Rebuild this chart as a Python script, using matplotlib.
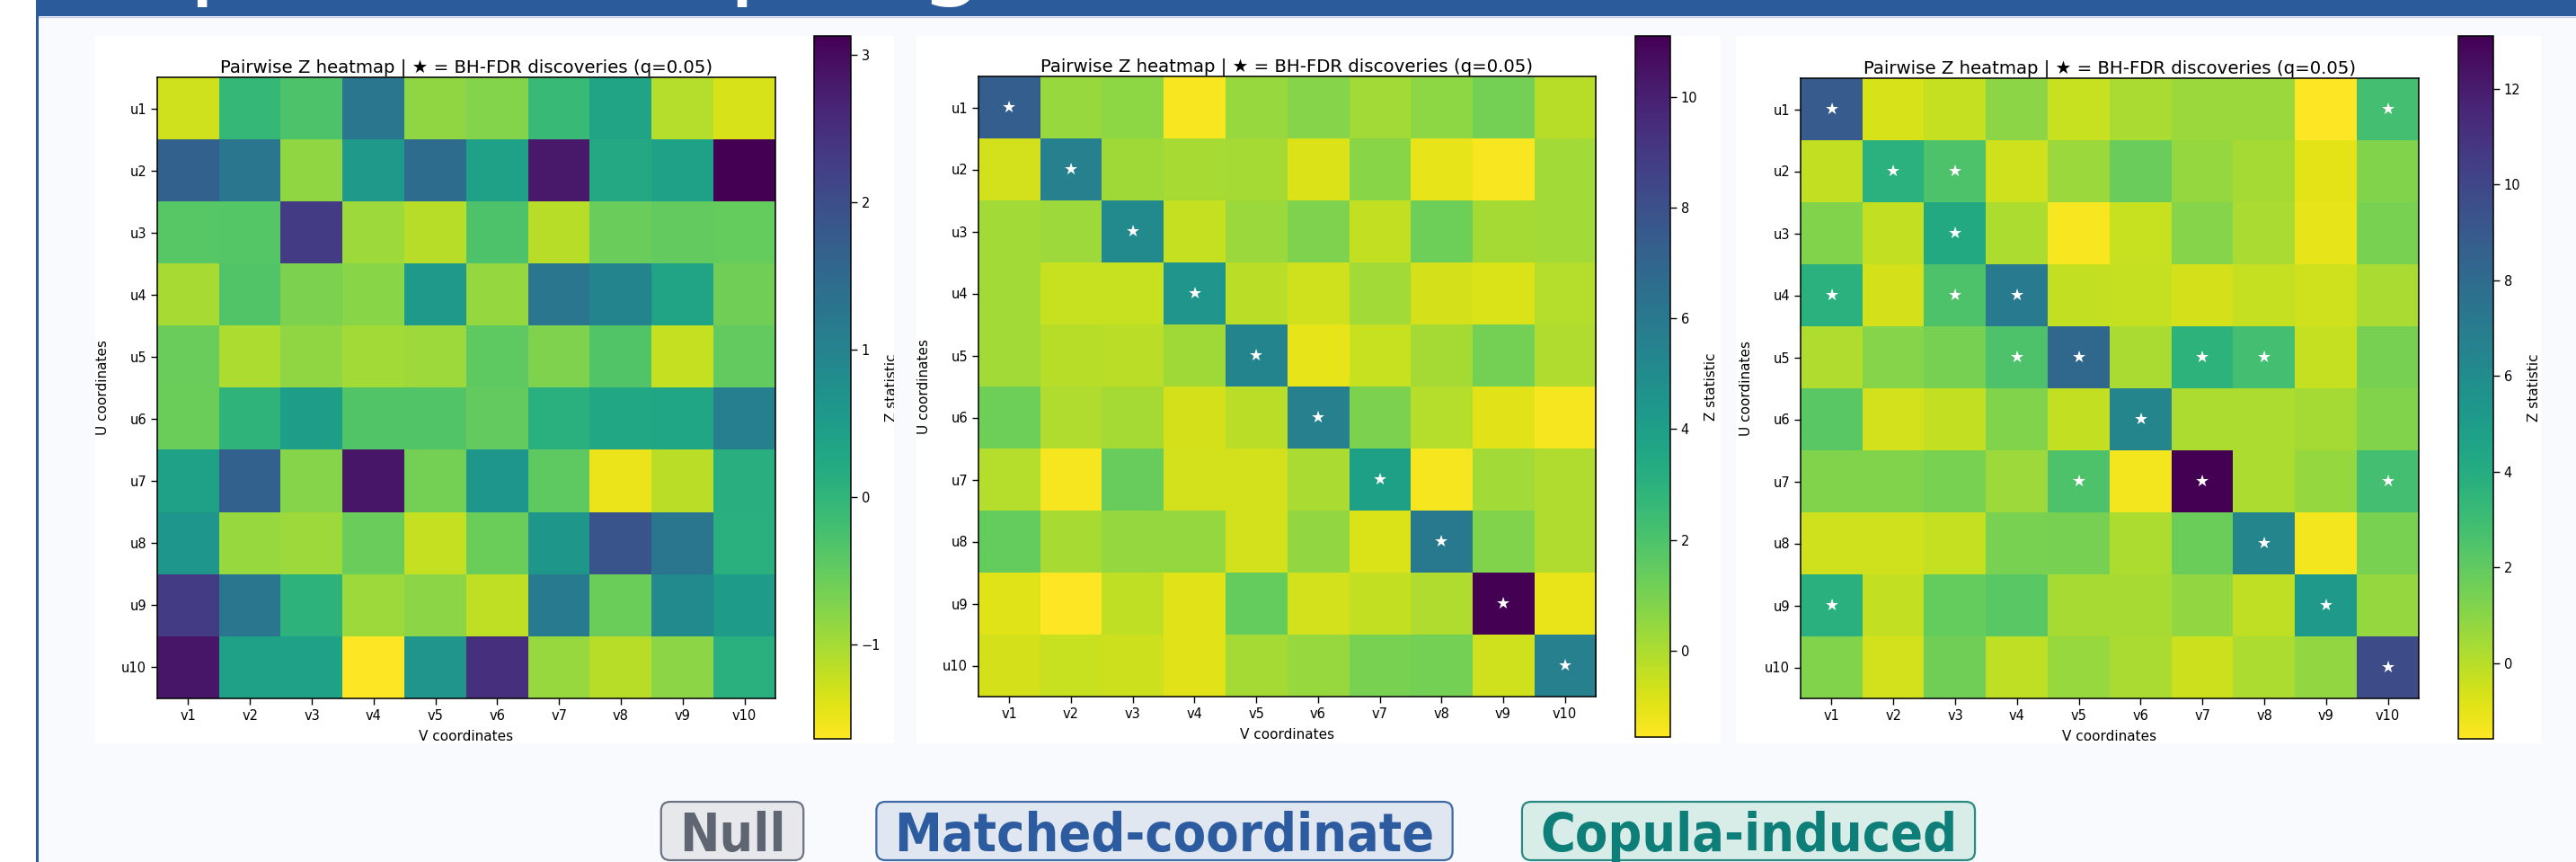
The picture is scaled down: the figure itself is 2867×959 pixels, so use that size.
import numpy as np
import matplotlib
matplotlib.use("Agg")
import matplotlib.pyplot as plt
from matplotlib.patches import Rectangle, FancyBboxPatch
from matplotlib.transforms import Bbox

W, H, DPI = 2867, 959, 100

# ---------------- data ----------------
row_labels = ["u1", "u2", "u3", "u4", "u5", "u6", "u7", "u8", "u9", "u10"]
col_labels = ["v1", "v2", "v3", "v4", "v5", "v6", "v7", "v8", "v9", "v10"]

z_null = [
    [-1.30, -0.05, -0.30, 1.25, -0.85, -0.75, -0.10, 0.35, -1.10, -1.35],
    [1.65, 1.25, -0.85, 0.55, 1.45, 0.40, 2.80, 0.25, 0.40, 3.13],
    [-0.40, -0.38, 2.30, -0.95, -1.12, -0.30, -1.12, -0.55, -0.50, -0.52],
    [-1.02, -0.35, -0.70, -0.80, 0.55, -0.88, 1.25, 0.98, 0.35, -0.60],
    [-0.55, -1.05, -0.85, -0.98, -0.95, -0.45, -0.72, -0.35, -1.22, -0.50],
    [-0.57, 0.03, 0.45, -0.35, -0.35, -0.50, 0.10, 0.27, 0.30, 1.08],
    [0.40, 1.65, -0.78, 2.85, -0.65, 0.62, -0.45, -1.50, -1.15, 0.12],
    [0.62, -0.90, -0.95, -0.55, -1.22, -0.57, 0.60, 1.90, 1.25, 0.10],
    [2.30, 1.25, 0.05, -0.95, -0.82, -1.18, 1.15, -0.57, 0.85, 0.50],
    [2.85, 0.40, 0.40, -1.64, 0.65, 2.48, -0.90, -1.12, -0.82, 0.10],
]

z_matched = [
    [7.30, 0.40, 0.60, -1.45, 0.40, 0.75, 0.20, 0.60, 1.10, -0.20],
    [-0.70, 5.60, 0.25, 0.10, 0.15, -0.90, 0.70, -1.10, -1.45, 0.20],
    [0.20, 0.30, 5.10, -0.45, 0.35, 0.90, -0.40, 1.25, 0.15, 0.20],
    [0.20, -0.50, -0.50, 4.50, -0.25, -0.65, 0.20, -0.75, -0.85, -0.15],
    [0.20, -0.20, -0.25, 0.25, 5.40, -1.10, -0.50, 0.15, 1.10, -0.05],
    [1.25, -0.05, 0.15, -0.75, -0.25, 5.60, 0.95, -0.15, -1.00, -1.40],
    [-0.15, -1.40, 1.40, -0.70, -0.70, 0.05, 3.90, -1.40, 0.20, -0.05],
    [1.45, 0.10, 0.45, 0.45, -0.70, 0.50, -0.85, 6.00, 0.85, -0.05],
    [-0.95, -1.56, -0.35, -1.00, 1.45, -0.70, -0.40, -0.05, 11.10, -1.15],
    [-0.75, -0.50, -0.60, -1.00, 0.15, 0.40, 1.00, 1.10, -0.65, 5.60],
]

z_copula = [
    [8.90, -0.70, -0.30, 1.00, -0.35, 0.30, 0.60, 0.60, -1.58, 2.80],
    [-0.25, 3.70, 2.50, -0.50, 0.60, 1.80, 0.75, 0.40, -1.00, 1.20],
    [1.20, -0.25, 4.20, 0.20, -1.45, -0.35, 1.10, 0.30, -1.05, 1.40],
    [3.70, -0.65, 2.50, 7.10, -0.25, -0.30, -0.65, -0.30, -0.50, 0.30],
    [0.15, 1.10, 1.45, 2.50, 8.20, 0.30, 3.60, 2.80, -0.30, 1.45],
    [2.20, -0.60, -0.25, 1.20, -0.25, 6.40, 0.20, 0.20, 0.40, 1.20],
    [1.20, 1.20, 1.35, 0.55, 2.50, -1.30, 13.10, 0.25, 0.75, 2.80],
    [-0.50, -0.50, -0.30, 1.40, 1.45, 0.25, 1.70, 6.40, -1.35, 1.40],
    [3.80, -0.25, 1.90, 2.20, 0.35, 0.35, 0.80, -0.15, 5.20, 0.75],
    [1.20, -0.55, 1.60, -0.15, 0.70, 0.30, -0.45, 0.20, 0.80, 9.70],
]

# BH-FDR discoveries as (row, column)
stars_null = []
stars_matched = [(0, 0), (1, 1), (2, 2), (3, 3), (4, 4), (5, 5), (6, 6), (7, 7), (8, 8), (9, 9)]
stars_copula = [(0, 0), (0, 9), (1, 1), (1, 2), (2, 2), (3, 0), (3, 2), (3, 3), (4, 3),
                (4, 4), (4, 6), (4, 7), (5, 5), (6, 4), (6, 6), (6, 9), (7, 7), (8, 0),
                (8, 8), (9, 9)]

cbar_ticks_null = [-1, 0, 1, 2, 3]
cbar_ticks_matched = [0, 2, 4, 6, 8, 10]
cbar_ticks_copula = [0, 2, 4, 6, 8, 10, 12]

scenario_labels = ["Null", "Matched-coordinate", "Copula-induced"]
panel_title = "Pairwise Z heatmap | \u2605 = BH-FDR discoveries (q=0.05)"
slide_title = "Empirical coupling structure"

# ---------------- layout / style ----------------
plt.rcParams['font.family'] = ['DejaVu Sans']
HEADER = "#2b5b9a"

fig = plt.figure(figsize=(W / DPI, H / DPI), dpi=DPI, facecolor="white")
bg = fig.add_axes([0, 0, 1, 1])
bg.set_xlim(0, W)
bg.set_ylim(H, 0)
bg.axis("off")
bg.set_zorder(0)


def frac(x0, y0, x1, y1):
    return [x0 / W, 1 - y1 / H, (x1 - x0) / W, (y1 - y0) / H]


# slide frame
bg.add_patch(Rectangle((40, 0), W - 40, H, fc="#f8fafd", ec="none"))
bg.add_patch(Rectangle((40, 0), W - 40, 18, fc=HEADER, ec="none"))
bg.plot([40, W], [18.6, 18.6], color="#c6d3e6", lw=1.0)
bg.plot([41.2, 41.2], [0, H], color=HEADER, lw=2.2)
bg.text(22, -17, slide_title, color="white", fontsize=84, ha="left",
        va="baseline", clip_on=False)

panels = [
    dict(z=z_null, stars=stars_null, ticks=cbar_ticks_null,
         rect=(106, 40, 995, 827), ax=(175, 86, 863, 777), cax=(906, 40, 947, 822)),
    dict(z=z_matched, stars=stars_matched, ticks=cbar_ticks_matched,
         rect=(1020, 40, 1915, 827), ax=(1089, 85, 1776, 775), cax=(1820, 40, 1859, 820)),
    dict(z=z_copula, stars=stars_copula, ticks=cbar_ticks_copula,
         rect=(1932, 40, 2828, 827), ax=(2004, 87, 2692, 777), cax=(2736, 40, 2775, 822)),
]

TICK_FS = 10.5
LABEL_FS = 11
TITLE_FS = 14.2

for p in panels:
    rx0, ry0, rx1, ry1 = p["rect"]
    bg.add_patch(Rectangle((rx0, ry0), rx1 - rx0, ry1 - ry0, fc="white", ec="none"))
    clip = Bbox.from_extents(rx0 / W, 1 - ry1 / H, rx1 / W, 1 - ry0 / H)

    ax = fig.add_axes(frac(*p["ax"]))
    ax.set_zorder(2)
    Z = np.array(p["z"])
    im = ax.imshow(Z, cmap="viridis_r", aspect="auto", interpolation="nearest")
    ax.set_xticks(range(len(col_labels)), col_labels)
    ax.set_yticks(range(len(row_labels)), row_labels)
    ax.tick_params(labelsize=TICK_FS, length=5, width=1.0)
    for s in ax.spines.values():
        s.set_linewidth(1.1)
    ax.set_title(panel_title, fontsize=TITLE_FS, pad=4)
    ax.set_xlabel("V coordinates", fontsize=LABEL_FS)
    ax.set_ylabel("U coordinates", fontsize=LABEL_FS)
    ax.xaxis.set_label_coords(0.5, -0.051)
    ax.yaxis.set_label_coords(-0.077, 0.5)
    for (r, c) in p["stars"]:
        ax.text(c, r, "\u2605", color="white", ha="center", va="center", fontsize=13)

    cax = fig.add_axes(frac(*p["cax"]))
    cax.set_zorder(2)
    cb = fig.colorbar(im, cax=cax)
    cb.set_ticks(p["ticks"])
    cb.ax.tick_params(labelsize=TICK_FS, length=5, width=1.0)
    cb.outline.set_linewidth(1.1)
    cb.set_label("Z statistic", fontsize=LABEL_FS)
    cx0, _, cx1, _ = p["cax"]
    cax.yaxis.set_label_coords((cx1 + 38 - cx0) / (cx1 - cx0), 0.5)
    lab = cax.yaxis.label
    lab.set_clip_box(fig.transFigure.transform_bbox(clip) if False else None)
    from matplotlib.transforms import TransformedBbox
    lab.set_clip_box(TransformedBbox(clip, fig.transFigure))
    lab.set_clip_on(True)

# scenario badges
badge_specs = [
    dict(cx=815, fg="#5f6571", face="#e7e8eb", edge="#6b7282"),
    dict(cx=1296, fg="#2c5c9f", face="#e0e7f1", edge="#3d69a5"),
    dict(cx=1946, fg="#0e7e78", face="#d8ece8", edge="#2a8a83"),
]
badge_texts = []
for name, spec in zip(scenario_labels, badge_specs):
    t = bg.text(spec["cx"], 947, name, color=spec["fg"], fontsize=42.5,
                fontweight="bold", fontstretch="condensed", ha="center",
                va="baseline", zorder=5)
    badge_texts.append(t)

fig.canvas.draw()
renderer = fig.canvas.get_renderer()
for t, spec in zip(badge_texts, badge_specs):
    ext = t.get_window_extent(renderer)
    x0, x1 = ext.x0 - 20, ext.x1 + 20
    bg.add_patch(FancyBboxPatch((x0, 892), x1 - x0, 65,
                                boxstyle="round,pad=0,rounding_size=10",
                                fc=spec["face"], ec=spec["edge"], lw=1.6, zorder=4))

fig.savefig("out.png", dpi=DPI, facecolor="white")
